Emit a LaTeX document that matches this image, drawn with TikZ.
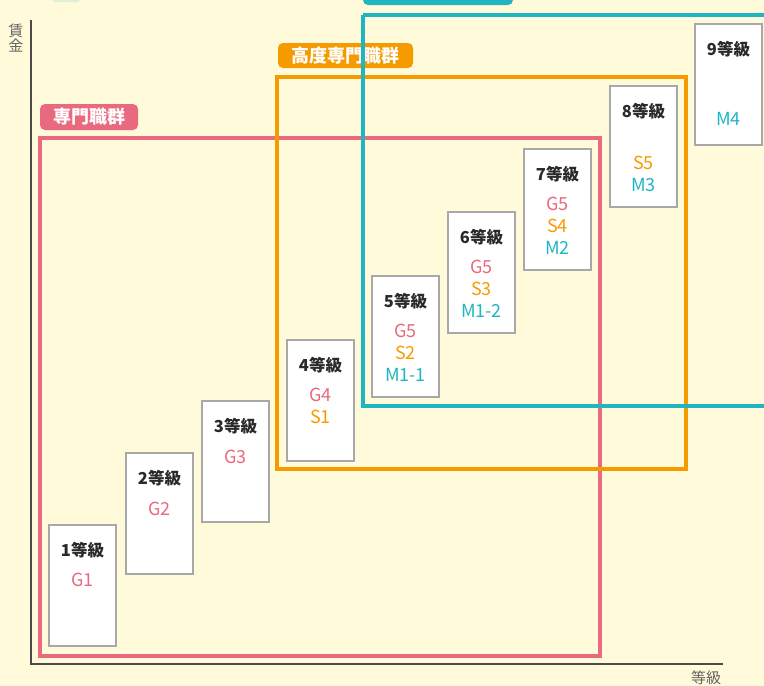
\documentclass[tikz,border=0pt]{standalone}
\usepackage{fontspec}
\setmainfont{Noto Sans CJK JP}
\newfontfamily\jpfont{Noto Sans CJK JP}
\definecolor{bgc}{HTML}{FFFAD9}
\definecolor{pinkc}{HTML}{E9697F}
\definecolor{orangec}{HTML}{F59B00}
\definecolor{tealc}{HTML}{1FB5C1}
\definecolor{axisc}{HTML}{4A4A4A}
\definecolor{boxc}{HTML}{A8A8A8}
\definecolor{titlec}{HTML}{2A2A2A}
\definecolor{greenc}{HTML}{DDF1D6}
\tikzset{
  frame/.style={line width=3.5pt},
  grp/.style={rounded corners=5pt, text=white, font=\jpfont\bfseries\fontsize{18}{18}\selectfont, inner sep=0pt, anchor=center},
  gradebox/.style={draw=boxc, line width=1.5pt, fill=white},
  gtitle/.style={font=\jpfont\bfseries\fontsize{16.5}{16.5}\selectfont, text=titlec, inner sep=0pt},
  glab/.style={font=\jpfont\fontsize{18}{18}\selectfont, inner sep=0pt},
}
\begin{document}
\begin{tikzpicture}[x=1pt,y=-1pt]
\fill[bgc] (0,0) rectangle (764,686);
\useasboundingbox (0,0) rectangle (764,686);
\begin{scope}
\clip (0,0) rectangle (764,686);
% faint green element at top
\fill[greenc, rounded corners=3pt] (52,-10) rectangle (80,2);
% axes
\draw[axisc, line width=1.6pt] (31,20) -- (31,664) -- (723,664);
\node[font=\jpfont\fontsize{15}{15}\selectfont, text=axisc!85, align=center, inner sep=0pt] (ylab) at (16,38) {賃\\[0pt]金};
\node[font=\jpfont\fontsize{15}{15}\selectfont, text=axisc!85, inner sep=0pt] (xlab) at (706,678) {等級};
% frames
\draw[frame, pinkc] (40,138) rectangle (600,656);
\node[grp, fill=pinkc, minimum width=98pt, minimum height=26pt] (pinklab) at (89,117) {専門職群};
\draw[frame, orangec] (277,77) rectangle (686,469);
\node[grp, fill=orangec, minimum width=135pt, minimum height=25pt] (orangelab) at (345.5,55.5) {高度専門職群};
\draw[frame, tealc] (363,15) -- (800,15);
\draw[frame, tealc] (363,15) -- (363,406) -- (800,406);
\node[grp, fill=tealc, minimum width=150pt, minimum height=26pt] (teallab) at (438,-8) {管理・監督職群};
\end{scope}
% grade boxes
\foreach \i/\x/\y in {1/49/525, 2/126/453, 3/202/401, 4/287/340, 5/372/276, 6/448/212, 7/524/149, 8/610/86, 9/695/24} {
  \draw[gradebox] (\x,\y) rectangle ++(67,121);
  \node[gtitle] (t\i) at (\x+33.5,\y+25) {\i 等級};
}
\node[glab, text=pinkc] (g1) at (82.5,580) {G1};
\node[glab, text=pinkc] (g2) at (159.5,509) {G2};
\node[glab, text=pinkc] (g3) at (235.5,457) {G3};
\node[glab, text=pinkc] (g4) at (320.5,395) {G4};
\node[glab, text=orangec] (s1) at (320.5,417) {S1};
\node[glab, text=pinkc] (g5a) at (405.5,331) {G5};
\node[glab, text=orangec] (s2) at (405.5,353) {S2};
\node[glab, text=tealc] (m11) at (405.5,375) {M1-1};
\node[glab, text=pinkc] (g5b) at (481.5,267) {G5};
\node[glab, text=orangec] (s3) at (481.5,289) {S3};
\node[glab, text=tealc] (m12) at (481.5,311) {M1-2};
\node[glab, text=pinkc] (g5c) at (557.5,204) {G5};
\node[glab, text=orangec] (s4) at (557.5,226) {S4};
\node[glab, text=tealc] (m2) at (557.5,248) {M2};
\node[glab, text=orangec] (s5) at (643.5,163) {S5};
\node[glab, text=tealc] (m3) at (643.5,185) {M3};
\node[glab, text=tealc] (m4) at (728.5,119) {M4};
\end{tikzpicture}
\end{document}
